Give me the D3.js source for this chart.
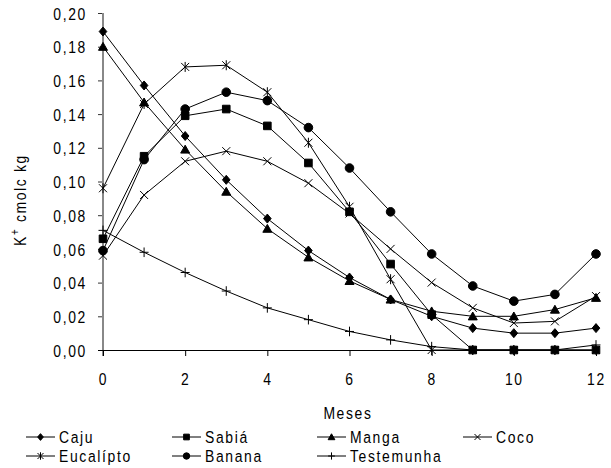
<!DOCTYPE html>
<html>
<head>
<meta charset="utf-8">
<script src="https://cdn.jsdelivr.net/npm/d3@7"></script>
<style>
  body { margin: 0; background: #fff; }
  svg text { font-family: "Liberation Sans", Arial, sans-serif; font-size: 17px; letter-spacing: 2px; fill: #000; }
</style>
</head>
<body>
<div id="chart"></div>
<script>
const width = 611;
const height = 468;

// months on the x axis
const months = [0, 1, 2, 3, 4, 5, 6, 7, 8, 9, 10, 11, 12];

// K+ values per treatment
const caju = [0.189, 0.157, 0.127, 0.101, 0.078, 0.059, 0.043, 0.030, 0.020, 0.013, 0.010, 0.010, 0.013];
const sabia = [0.066, 0.115, 0.139, 0.143, 0.133, 0.111, 0.082, 0.051, 0.021, 0, 0, 0, 0];
const manga = [0.180, 0.147, 0.119, 0.094, 0.072, 0.055, 0.041, 0.030, 0.023, 0.020, 0.020, 0.024, 0.031];
const coco = [0.056, 0.092, 0.112, 0.118, 0.112, 0.099, 0.081, 0.060, 0.040, 0.025, 0.016, 0.017, 0.032];
const eucalipto = [0.096, 0.146, 0.168, 0.169, 0.153, 0.123, 0.085, 0.042, 0, 0, 0, 0, 0];
const banana = [0.059, 0.113, 0.143, 0.153, 0.148, 0.132, 0.108, 0.082, 0.057, 0.038, 0.029, 0.033, 0.057];
const testemunha = [0.071, 0.058, 0.046, 0.035, 0.025, 0.018, 0.011, 0.006, 0.002, 0, 0, 0, 0.003];

const seriesNames = ["Caju", "Sabiá", "Manga", "Coco", "Eucalípto", "Banana", "Testemunha"];
const seriesValues = [caju, sabia, manga, coco, eucalipto, banana, testemunha];
const markerTypes = ["diamond", "square", "triangle", "times", "asterisk", "circle", "plus"];

const xTicks = [0, 2, 4, 6, 8, 10, 12];
const yTicks = [0, 0.02, 0.04, 0.06, 0.08, 0.10, 0.12, 0.14, 0.16, 0.18, 0.20];

const x = d3.scaleLinear().domain([0, 12]).range([103, 596]);
const y = d3.scaleLinear().domain([0, 0.2]).range([350, 13]);

// marker shapes, k scales them down for the legend
function markerPath(type, k) {
  const p = d3.path();
  if (type === "diamond") {
    p.moveTo(0, -4.5 * k); p.lineTo(3.8 * k, 0); p.lineTo(0, 4.5 * k); p.lineTo(-3.8 * k, 0); p.closePath();
  } else if (type === "square") {
    p.rect(-3.8 * k, -3.8 * k, 7.6 * k, 7.6 * k);
  } else if (type === "triangle") {
    p.moveTo(0, -4.3 * k); p.lineTo(4.5 * k, 3.6 * k); p.lineTo(-4.5 * k, 3.6 * k); p.closePath();
  } else if (type === "circle") {
    p.arc(0, 0, 4.3 * k, 0, 2 * Math.PI);
  } else if (type === "times") {
    p.moveTo(-4 * k, -4 * k); p.lineTo(4 * k, 4 * k); p.moveTo(-4 * k, 4 * k); p.lineTo(4 * k, -4 * k);
  } else if (type === "asterisk") {
    p.moveTo(-4 * k, -4 * k); p.lineTo(4 * k, 4 * k); p.moveTo(-4 * k, 4 * k); p.lineTo(4 * k, -4 * k);
    p.moveTo(0, -5 * k); p.lineTo(0, 5 * k);
  } else {
    p.moveTo(-4.5 * k, 0); p.lineTo(4.5 * k, 0); p.moveTo(0, -4.8 * k); p.lineTo(0, 4.8 * k);
  }
  return p.toString();
}
const filled = t => ["diamond", "square", "triangle", "circle"].includes(t);

const svg = d3.select("#chart")
  .append("svg")
  .attr("width", width)
  .attr("height", height);

// y axis
const yAxis = svg.append("g")
  .attr("transform", "translate(103,0)")
  .call(d3.axisLeft(y).tickValues(yTicks).tickSize(5).tickPadding(11)
    .tickFormat(d => d3.format(".2f")(d).replace(".", ",")));
yAxis.select(".domain").remove();
yAxis.selectAll(".tick line").attr("stroke", "#333");
yAxis.selectAll(".tick text").attr("dy", "0.36em");
svg.append("line")
  .attr("x1", 103).attr("x2", 103)
  .attr("y1", y(0.2)).attr("y2", 356)
  .attr("stroke", "#888").attr("stroke-width", 2);

// x axis
const xAxis = svg.append("g")
  .attr("transform", "translate(0,350)")
  .call(d3.axisBottom(x).tickValues(xTicks).tickSize(6).tickPadding(29).tickSizeOuter(0));
xAxis.select(".domain").attr("d", "M98,0.5H" + x(12));
xAxis.selectAll(".tick line").attr("stroke", "#000");
xAxis.selectAll(".tick text").attr("dy", "0");
svg.selectAll("g").attr("font-family", null).attr("font-size", null);

// axis titles
svg.append("text")
  .attr("x", 348).attr("y", 419)
  .attr("text-anchor", "middle")
  .text("Meses");

const yTitle = svg.append("text")
  .attr("transform", "translate(26,200) rotate(-90)")
  .attr("text-anchor", "middle");
yTitle.append("tspan").text("K");
yTitle.append("tspan").attr("dy", -7).style("font-size", "12px").text("+");
yTitle.append("tspan").attr("dy", 7).text(" cmolc kg");

// lines and markers
const line = d3.line()
  .x((d, i) => x(months[i]))
  .y(d => y(d));

seriesValues.forEach(function(vals, s) {
  const g = svg.append("g");
  g.append("path")
    .attr("d", line(vals))
    .attr("fill", "none")
    .attr("stroke", "#000")
    .attr("stroke-width", 1);
  g.selectAll("path.m")
    .data(vals)
    .enter()
    .append("path")
    .attr("class", "m")
    .attr("transform", (d, i) => "translate(" + x(months[i]) + "," + y(d) + ")")
    .attr("d", markerPath(markerTypes[s], 1))
    .attr("fill", filled(markerTypes[s]) ? "#000" : "none")
    .attr("stroke", "#000")
    .attr("stroke-width", 1);
});

// legend: 4 columns, 2 rows
const legend = svg.append("g");
const colX = [26, 172, 317, 463];
const rowY = [437, 456];
seriesNames.forEach(function(name, i) {
  const lx = colX[i % 4];
  const ly = rowY[Math.floor(i / 4)];
  const item = legend.append("g").attr("transform", "translate(" + lx + "," + ly + ")");
  item.append("line")
    .attr("x1", 0).attr("x2", 29)
    .attr("stroke", "#000").attr("stroke-width", 1);
  item.append("path")
    .attr("transform", "translate(14.5,0)")
    .attr("d", markerPath(markerTypes[i], 0.75))
    .attr("fill", filled(markerTypes[i]) ? "#000" : "none")
    .attr("stroke", "#000");
  item.append("text")
    .attr("x", 33).attr("y", 6)
    .text(name);
});

// the original uses a narrow face; squeeze Liberation Sans horizontally
const squeeze = 0.82;
svg.selectAll("text").each(function() {
  const t = d3.select(this);
  const tx = +t.attr("x") || 0;
  t.attr("x", tx / squeeze);
  t.attr("transform", (t.attr("transform") || "") + " scale(" + squeeze + ",1)");
});
</script>
</body>
</html>
